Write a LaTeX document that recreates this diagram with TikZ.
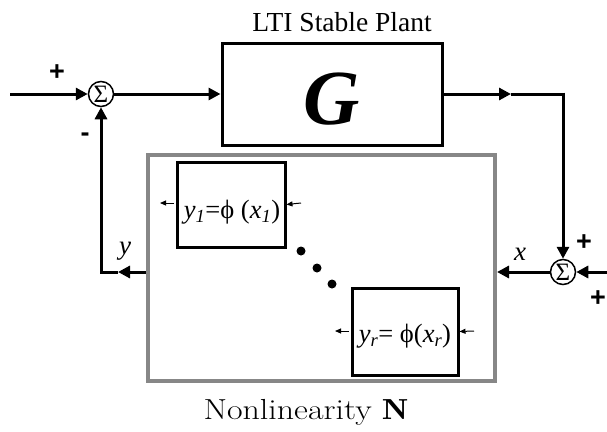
\documentclass[tikz,border=0pt]{standalone}
\usepackage{fontspec}
\usetikzlibrary{arrows.meta,calc}
\newfontfamily\tnr{Liberation Serif}
\newfontfamily\arl{Liberation Sans}
\begin{document}
\begin{tikzpicture}[x=1pt,y=-1pt,
  conn/.style={line width=3pt},
  arr/.style={line width=3pt,-{Triangle[length=12pt,width=12pt]}},
  sarr/.style={line width=1pt,-{Triangle[length=6pt,width=5pt]}},
  sumnode/.style={draw,circle,line width=1.5pt,minimum size=25pt,inner sep=-3pt,font=\tnr\fontsize{25}{25}\selectfont},
  blk/.style={draw,line width=3pt,inner sep=0pt},
  sign/.style={font=\arl\bfseries\fontsize{27}{27}\selectfont,inner sep=0pt},
  lbl/.style={font=\tnr\itshape\fontsize{27}{27}\selectfont,inner sep=0pt},
  dotn/.style={circle,fill=black,minimum size=9pt,inner sep=0pt}
]
\useasboundingbox (0,0) rectangle (607,431);
% title
\node[font=\tnr\fontsize{27.5}{28}\selectfont] (title) at (342,22) {LTI Stable Plant};
% plant
\node[blk,minimum width=220pt,minimum height=102pt] (G) at (332,94) {};
\node[font=\tnr\bfseries\itshape\fontsize{78}{78}\selectfont,inner sep=0pt] (Gl) at (332,99) {G};
% nonlinearity box
\node[draw=black!47,line width=4pt,minimum width=347pt,minimum height=226pt,inner sep=0pt] (N) at (321.5,268) {};
\node[font=\fontsize{29}{29}\selectfont] (Nl) at (306,412) {\scalebox{1.17}[1]{Nonlinearity $\mathbf{N}$}};
% inner blocks
\node[blk,minimum width=108pt,minimum height=85pt] (b1) at (231,204.5) {};
\node[font=\tnr\fontsize{26.5}{26.5}\selectfont,inner sep=0pt] (t1) at (232,212) {\itshape y\textsubscript{\itshape 1}\upshape=ϕ (\itshape x\textsubscript{\itshape 1}\upshape)};
\node[blk,minimum width=106pt,minimum height=87pt] (b2) at (405,331.5) {};
\node[font=\tnr\fontsize{26.5}{26.5}\selectfont,inner sep=0pt] (t2) at (405,336) {\itshape y\textsubscript{\itshape r}\upshape= ϕ(\itshape x\textsubscript{\itshape r}\upshape)};
% small arrows
\coordinate (b1l) at (174,203);
\coordinate (b1lt) at (160,203);
\coordinate (b1r) at (301,203);
\draw[sarr] (b1l) -- (b1lt);
\draw[sarr] (b1r) -- (b1.east);
\coordinate (b2l) at (349,331);
\coordinate (b2lt) at (335,331);
\coordinate (b2r) at (474,331);
\draw[sarr] (b2l) -- (b2lt);
\draw[sarr] (b2r) -- (b2.east);
% dots
\node[dotn] (d1) at (301,251) {};
\node[dotn] (d2) at (317,268) {};
\node[dotn] (d3) at (332,284) {};
% summing junctions
\node[sumnode] (s1) at (101,94) {Σ};
\node[sumnode] (s2) at (563,272) {Σ};
% input left
\coordinate (in1) at (10,94);
\draw[arr] (in1) -- (s1);
\draw[arr] (s1) -- (G.west);
% output
\coordinate (m1) at (511,94);
\coordinate (c1) at (563,94);
\draw[arr] (G.east) -- (m1);
\draw[conn] (m1) -- (c1);
\draw[arr] ([yshift=1.5pt]c1) -- (s2);
% right input
\coordinate (in2) at (610,272);
\draw[arr] (in2) -- (s2);
% to N
\coordinate (nE) at (497,272);
\draw[arr] (s2) -- (nE);
% feedback
\coordinate (nW) at (146,272);
\coordinate (m2) at (118,272);
\coordinate (fb) at (101,272);
\draw[arr] (nW) -- (m2);
\draw[arr] (m2) -- (fb) -- (s1);
% labels
\node[sign] (p1) at (57,73) {+};
\node[sign] (n1) at (85,137) {-};
\node[sign] (p2) at (584,243) {+};
\node[sign] (p3) at (598,299) {+};
\node[lbl] (ly) at (125,251) {y};
\node[lbl] (lx) at (520,254) {x};
\end{tikzpicture}
\end{document}
